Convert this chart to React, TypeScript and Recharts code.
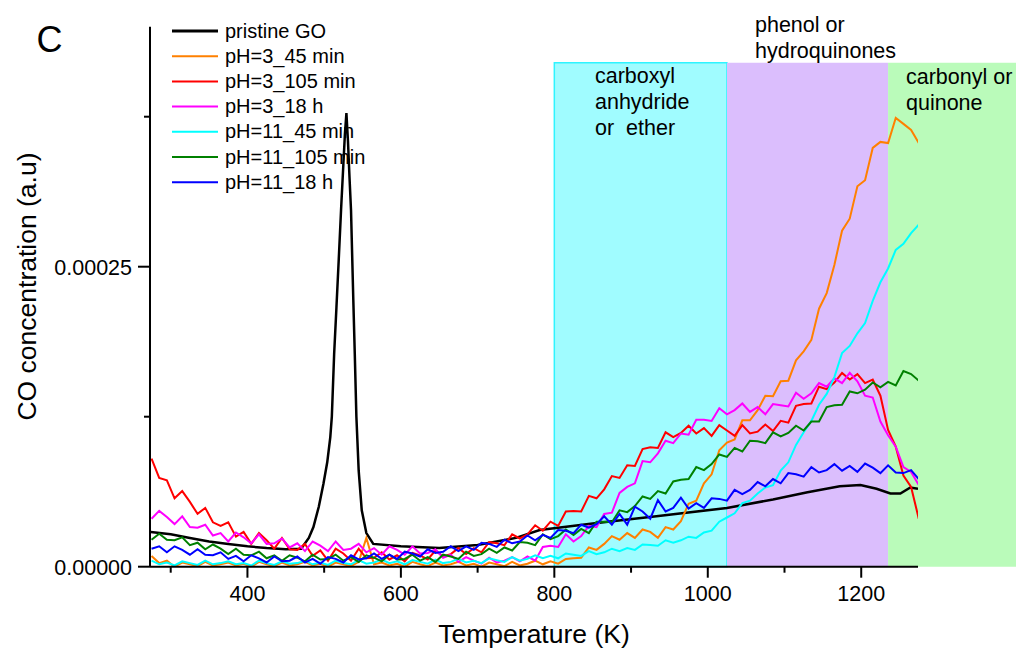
import { LineChart, Line, XAxis, YAxis, ReferenceArea } from 'recharts'

// temperature grid (K) shared by the noisy traces
const temps = [
  275, 285, 295, 305, 315, 325, 335, 345, 355, 365,
  375, 385, 395, 405, 415, 425, 435, 445, 455, 465,
  475, 485, 495, 505, 515, 525, 535, 545, 555, 565,
  575, 585, 595, 605, 615, 625, 635, 645, 655, 665,
  675, 685, 695, 705, 715, 725, 735, 745, 755, 765,
  775, 785, 795, 805, 815, 825, 835, 845, 855, 865,
  875, 885, 895, 905, 915, 925, 935, 945, 955, 965,
  975, 985, 995, 1005, 1015, 1025, 1035, 1045, 1055, 1065,
  1075, 1085, 1095, 1105, 1115, 1125, 1135, 1145, 1155, 1165,
  1175, 1185, 1195, 1205, 1215, 1225, 1235, 1245, 1255, 1265,
  1275,
]

// values in units of 1e-5
const ph3_45 = [
  0.9, 0.3, 0.5, 0.0, 0.35, 0.2, 0.05, 0.4, 0.1, 0.2,
  0.35, 0.1, 0.25, 0.0, 0.4, 0.2, 0.05, 0.35, 0.1, 0.2,
  0.4, 0.1, 0.25, 0.0, 0.35, 0.2, 0.05, 0.4, 2.4, 0.2,
  0.35, 0.1, 0.25, 0.0, 0.4, 0.2, 0.05, 0.35, 0.1, 0.2,
  0.4, 0.1, 0.25, 0.0, 0.35, 0.2, 0.05, 0.4, 0.1, 0.25,
  0.5, 0.2, 0.45, 0.25, 0.65, 0.7, 0.75, 1.6, 1.4, 1.9,
  2.55, 2.25, 2.8, 2.4, 3.1, 2.9, 2.4, 3.3, 3.1, 3.8,
  5.25, 5.5, 6.95, 7.7, 9.7, 10.35, 10.6, 12.2, 12.2, 13.05,
  14.25, 14.2, 15.45, 15.5, 17.2, 17.95, 18.9, 21.5, 22.8, 25.15,
  28.0, 29.0, 31.7, 32.2, 34.9, 35.4, 35.3, 37.4, 36.9, 36.4,
  35.3,
]
const ph3_105 = [
  9.0, 7.4, 7.2, 5.7, 6.3, 5.4, 4.4, 4.9, 3.7, 3.4,
  3.7, 2.5, 2.9, 1.9, 2.8, 2.2, 1.5, 2.4, 1.45, 1.4,
  1.9, 0.9, 1.35, 0.5, 1.5, 1.1, 0.5, 1.5, 0.7, 0.75,
  1.2, 0.6, 0.95, 0.45, 1.15, 0.95, 0.6, 1.35, 0.85, 1.05,
  1.55, 1.05, 1.55, 1.2, 2.05, 1.95, 1.8, 2.7, 2.35, 2.7,
  3.45, 3.0, 3.75, 3.4, 4.6, 4.65, 4.6, 5.9, 5.7, 6.45,
  7.55, 7.4, 8.45, 8.4, 9.8, 9.95, 9.9, 11.2, 10.8, 11.15,
  11.75, 11.1, 11.55, 10.9, 11.8, 11.35, 10.9, 11.8, 11.1, 11.25,
  11.85, 11.3, 12.15, 12.0, 13.4, 13.55, 13.6, 15.0, 14.8, 15.35,
  16.15, 15.6, 16.05, 15.3, 15.6, 14.25, 11.4, 10.0, 7.6, 6.65,
  4.0,
]
const ph3_18h = [
  4.0, 4.65, 4.15, 3.55, 4.2, 3.3, 3.25, 3.5, 2.6, 2.8,
  2.1, 2.85, 2.45, 1.95, 2.7, 1.9, 1.95, 2.35, 1.6, 1.95,
  1.3, 2.1, 1.75, 1.3, 2.1, 1.4, 1.5, 1.9, 1.2, 1.55,
  1.0, 1.7, 1.4, 1.0, 1.7, 1.1, 1.15, 1.45, 0.75, 1.0,
  0.4, 0.8, 0.5, 0.25, 0.75, 0.35, 0.5, 0.8, 0.45, 0.85,
  0.5, 1.65, 1.75, 1.65, 2.7, 2.1, 2.55, 3.4, 3.3, 4.4,
  4.5, 6.15, 6.65, 6.95, 8.8, 8.7, 9.45, 10.5, 10.3, 11.1,
  11.0, 12.25, 12.25, 12.15, 13.2, 12.7, 13.05, 13.6, 12.9, 13.3,
  12.7, 13.55, 13.45, 13.35, 14.5, 14.0, 14.45, 15.3, 15.0, 15.7,
  15.3, 16.15, 15.45, 14.25, 14.1, 12.1, 10.95, 10.0, 8.3, 7.9,
  6.8,
]
const ph11_45 = [
  0.5, 0.2, 0.35, 0.1, 0.45, 0.3, 0.15, 0.5, 0.2, 0.3,
  0.45, 0.2, 0.3, 0.1, 0.5, 0.3, 0.15, 0.45, 0.25, 0.3,
  0.5, 0.2, 0.35, 0.15, 0.5, 0.3, 0.2, 0.55, 0.25, 0.35,
  0.6, 0.3, 0.45, 0.2, 0.55, 0.4, 0.25, 0.6, 0.3, 0.4,
  0.65, 0.35, 0.5, 0.3, 0.7, 0.55, 0.4, 0.8, 0.5, 0.65,
  0.95, 0.7, 0.9, 0.7, 1.1, 1.0, 0.9, 1.3, 1.05, 1.2,
  1.5, 1.3, 1.55, 1.4, 1.85, 1.8, 1.75, 2.2, 2.0, 2.2,
  2.5, 2.4, 2.85, 3.0, 3.75, 4.1, 4.45, 5.3, 5.5, 6.1,
  6.6, 6.8, 8.0, 8.7, 10.15, 11.2, 12.15, 13.5, 14.4, 15.8,
  17.8, 18.4, 19.45, 20.3, 22.15, 23.7, 24.85, 26.4, 26.9, 27.8,
  28.5,
]
const ph11_105 = [
  2.25, 2.75, 2.25, 2.2, 2.45, 1.8, 2.0, 1.45, 1.85, 1.5,
  1.05, 1.5, 1.0, 0.95, 1.25, 0.7, 0.95, 0.5, 0.95, 0.75,
  0.45, 1.0, 0.6, 0.65, 1.0, 0.5, 0.8, 0.4, 0.95, 0.75,
  0.45, 1.0, 0.6, 0.65, 1.0, 0.5, 0.8, 0.4, 1.0, 0.85,
  0.65, 1.25, 0.9, 1.05, 1.5, 1.15, 1.6, 1.35, 2.05, 2.0,
  1.8, 2.7, 2.3, 2.55, 3.1, 2.65, 3.15, 2.8, 3.75, 3.75,
  3.7, 4.7, 4.55, 5.05, 5.85, 5.65, 6.3, 6.1, 7.1, 7.25,
  7.3, 8.3, 8.05, 8.55, 9.35, 9.15, 9.9, 9.6, 10.5, 10.45,
  10.3, 11.2, 10.85, 11.15, 11.75, 11.35, 12.1, 12.1, 13.3, 13.45,
  13.5, 14.6, 14.45, 14.75, 15.35, 14.95, 15.4, 15.1, 16.3, 16.05,
  15.5,
]
const ph11_18h = [
  1.5, 1.7, 1.2, 1.7, 1.4, 1.0, 1.45, 1.0, 0.95, 1.2,
  0.65, 0.9, 0.45, 0.95, 0.7, 0.35, 0.85, 0.45, 0.5, 0.85,
  0.35, 0.65, 0.25, 0.8, 0.65, 0.35, 0.95, 0.6, 0.7, 1.1,
  0.65, 1.0, 0.65, 1.25, 1.1, 0.85, 1.45, 1.15, 1.25, 1.7,
  1.3, 1.7, 1.4, 2.0, 1.9, 1.65, 2.25, 1.95, 2.1, 2.6,
  2.2, 2.65, 2.4, 3.05, 3.0, 2.8, 3.5, 3.25, 3.55, 4.2,
  3.5, 4.4, 3.5, 5.0, 4.6, 4.0, 5.55, 4.6, 4.9, 5.75,
  4.85, 5.3, 4.9, 5.7, 5.65, 5.5, 6.4, 6.05, 6.4, 7.05,
  6.7, 7.3, 6.95, 7.8, 7.7, 7.5, 8.3, 7.85, 8.05, 8.55,
  8.0, 8.4, 7.9, 8.6, 8.25, 7.8, 8.45, 7.85, 7.8, 8.05,
  7.3,
]

// pristine GO is a smooth trace, sampled more densely around its peak
const goTemps = [
  274, 300, 325, 350, 375, 400, 425, 450, 470, 480,
  486, 493, 499, 504, 508, 510, 513, 516, 519, 522,
  525, 527, 529, 531, 533, 535, 538, 540, 542, 545,
  549, 555, 564, 600, 650, 700, 750, 781, 850, 933,
  1025, 1085, 1130, 1172, 1199, 1220, 1238, 1251, 1264, 1274,
]
const goValues = [
  2.9, 2.7, 2.4, 2.1, 1.9, 1.7, 1.55, 1.45, 1.5, 2.4,
  3.3, 5.0, 6.9, 8.7, 10.8, 12.5, 17.7, 21.6, 25.6, 29.7,
  33.5, 36.0, 37.8, 35.5, 32.5, 29.7, 22.2, 17.5, 12.5, 8.0,
  4.7, 2.8, 1.9, 1.7, 1.55, 1.8, 2.4, 3.05, 3.6, 4.2,
  4.9, 5.6, 6.2, 6.7, 6.8, 6.5, 6.1, 6.1, 6.6, 6.5,
]

const seriesNames = ['pristine GO', 'pH=3_45 min', 'pH=3_105 min', 'pH=3_18 h', 'pH=11_45 min', 'pH=11_105 min', 'pH=11_18 h']
const seriesColors = ['#000000', '#ff8000', '#ff0000', '#ff00ff', '#00ffff', '#008000', '#0000ff']
const noisySeries = [ph3_45, ph3_105, ph3_18h, ph11_45, ph11_105, ph11_18h]

const xTicks = [300, 400, 500, 600, 700, 800, 900, 1000, 1100, 1200]
const xLabelled = [400, 600, 800, 1000, 1200]
const yTicks = [0, 12.5, 25, 37.5]
const yLabelled = [0, 25]

const FONT = '"Liberation Sans", Arial, Helvetica, sans-serif'

const toRows = (xs: number[], ys: number[]) => xs.map((t, i) => ({ temp: t, v: ys[i] }))

function XTick({ x, y, payload }: any) {
  const major = xLabelled.includes(payload.value)
  return (
    <g>
      <line x1={x} x2={x} y1={y} y2={y + (major ? 11 : 6)} stroke="#000" strokeWidth={2} />
      {major && (
        <text x={x} y={y + 34.5} textAnchor="middle" fontSize={21.5} fontFamily={FONT} fill="#000">
          {payload.value}
        </text>
      )}
    </g>
  )
}

function YTick({ x, y, payload }: any) {
  const major = yLabelled.includes(payload.value)
  return (
    <g>
      <line x1={x - (major ? 12 : 6)} x2={x} y1={y} y2={y} stroke="#000" strokeWidth={2} />
      {major && (
        <text x={x - 18} y={y + 7.8} textAnchor="end" fontSize={21.5} fontFamily={FONT} fill="#000">
          {(payload.value / 1e5).toFixed(5)}
        </text>
      )}
    </g>
  )
}

export default function App() {
  const goRows = toRows(goTemps, goValues)
  const txt = { fontFamily: FONT, fill: '#000' }
  return (
    <div style={{ position: 'absolute', left: 0, top: 0, width: 1016, height: 649, background: '#fff' }}>
      <LineChart width={1016} height={649} margin={{ top: 26.7, right: 98, bottom: 0, left: 0 }}>
        <XAxis
          type="number"
          dataKey="temp"
          domain={[273, 1274]}
          ticks={xTicks}
          interval={0}
          tickSize={0}
          tickMargin={0}
          tickLine={false}
          axisLine={{ stroke: '#000', strokeWidth: 2 }}
          tick={<XTick />}
          height={82.3}
          allowDataOverflow
        />
        <YAxis
          type="number"
          domain={[0, 45]}
          ticks={yTicks}
          interval={0}
          tickSize={0}
          tickMargin={0}
          tickLine={false}
          axisLine={{ stroke: '#000', strokeWidth: 2 }}
          tick={<YTick />}
          width={150}
          allowDataOverflow
        />
        <ReferenceArea x1={800} x2={1025} y1={0} y2={42} fill="#a0fcff" fillOpacity={1} stroke="#2ef4ff" strokeWidth={1.5} ifOverflow="visible" />
        <ReferenceArea x1={1025} x2={1235} y1={0} y2={42} fill="#dbbefd" fillOpacity={1} ifOverflow="visible" />
        <ReferenceArea x1={1235} x2={1402} y1={0} y2={42} fill="#bafbba" fillOpacity={1} ifOverflow="visible" />
        <Line data={goRows} dataKey="v" type="linear" stroke={seriesColors[0]} strokeWidth={2.5} dot={false} isAnimationActive={false} />
        {noisySeries.map((vals, k) => (
          <Line
            key={seriesNames[k + 1]}
            data={toRows(temps, vals)}
            dataKey="v"
            type="linear"
            stroke={seriesColors[k + 1]}
            strokeWidth={2}
            dot={false}
            isAnimationActive={false}
          />
        ))}
      </LineChart>
      <svg width={1016} height={649} style={{ position: 'absolute', left: 0, top: 0, pointerEvents: 'none' }}>
        <text x={36.5} y={51.7} fontSize={36} {...txt}>C</text>
        {seriesNames.map((name, i) => {
          const cy = 31 + i * 25.2
          return (
            <g key={name}>
              <line x1={172} x2={218} y1={cy} y2={cy} stroke={seriesColors[i]} strokeWidth={i === 0 ? 3 : 2} />
              <text x={225} y={cy + 6.6} fontSize={20} {...txt}>{name}</text>
            </g>
          )
        })}
        <text fontSize={21.5} {...txt}>
          <tspan x={595} y={82.5}>carboxyl</tspan>
          <tspan x={595} y={108.5}>anhydride</tspan>
          <tspan x={595} y={134.5} style={{ whiteSpace: 'pre' }}>or  ether</tspan>
        </text>
        <text fontSize={21.5} {...txt}>
          <tspan x={755} y={32}>phenol or</tspan>
          <tspan x={755} y={58}>hydroquinones</tspan>
        </text>
        <text fontSize={21.5} {...txt}>
          <tspan x={906} y={83.5}>carbonyl or</tspan>
          <tspan x={906} y={109.5}>quinone</tspan>
        </text>
        <text x={534} y={643} textAnchor="middle" fontSize={26.5} {...txt}>Temperature (K)</text>
        <text x={36} y={286.5} textAnchor="middle" fontSize={26.5} transform="rotate(-90 36 286.5)" {...txt}>
          CO concentration (a.u)
        </text>
      </svg>
    </div>
  )
}
